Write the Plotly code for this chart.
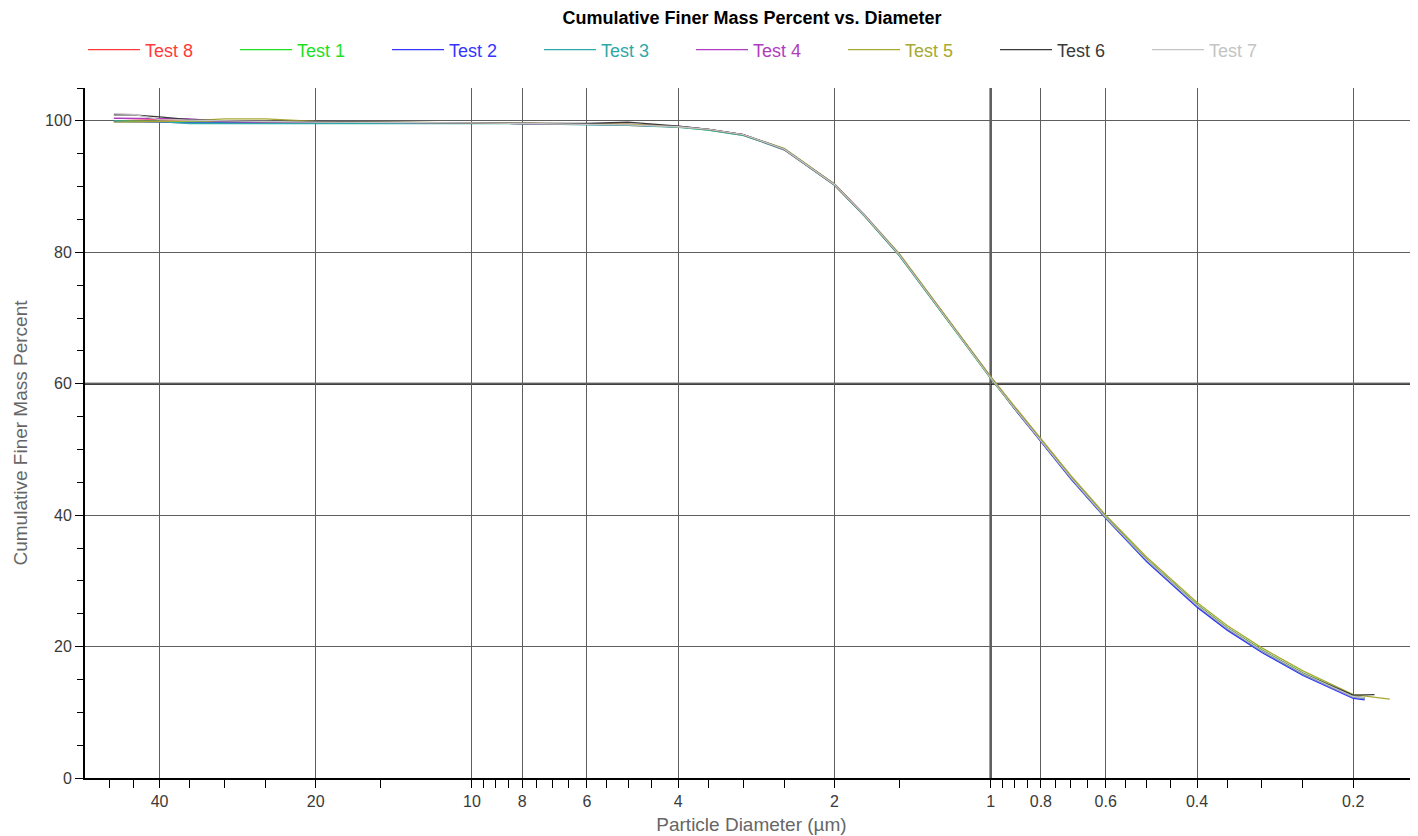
import math
import plotly.graph_objects as go

# ---------------- data ----------------
diameter_um = [49, 45, 40, 35, 30, 25, 20, 15, 10, 8, 6, 5, 4, 3.5, 3, 2.5, 2,
               1.75, 1.5, 1.25, 1, 0.9, 0.8, 0.7, 0.6, 0.5, 0.4, 0.35, 0.3, 0.25, 0.2]

test_names = ["Test 8", "Test 1", "Test 2", "Test 3", "Test 4", "Test 5", "Test 6", "Test 7"]
test_colors = ["#ff3b3b", "#1fe01f", "#3535ff", "#2fa8a8", "#b03cc0", "#a8a832", "#3a3a3a", "#c4c4c4"]

# last point of each test (diameter, percent), same order as test_names
tail_diameter = [0.19, 0.19, 0.19, 0.19, 0.19, 0.17, 0.182, 0.19]
tail_percent = [12.1, 12.2, 11.9, 12.1, 12.2, 12.0, 12.7, 12.2]

test8 = [100.0, 100.1, 100.2, 100.0, 99.9, 99.8, 99.8, 99.7, 99.7, 99.6, 99.5, 99.3, 99.1, 98.7, 97.9, 95.6,
         90.2, 85.5, 79.6, 71.3, 60.9, 56.3, 51.3, 45.6, 39.6, 33.1, 26.2, 22.7, 19.3, 15.8, 12.3]
test1 = [100.0, 100.0, 99.9, 99.8, 99.8, 99.8, 99.8, 99.8, 99.7, 99.6, 99.5, 99.4, 99.1, 98.6, 97.8, 95.7,
         90.3, 85.5, 79.5, 71.1, 60.8, 56.2, 51.4, 45.8, 39.8, 33.3, 26.4, 22.9, 19.5, 16.0, 12.5]
test2 = [99.9, 99.9, 99.8, 99.7, 99.7, 99.8, 99.8, 99.8, 99.7, 99.6, 99.5, 99.4, 99.1, 98.7, 97.9, 95.7,
         90.3, 85.6, 79.6, 71.2, 60.9, 56.2, 51.2, 45.5, 39.5, 32.9, 26.0, 22.5, 19.1, 15.6, 12.1]
test3 = [100.0, 99.9, 99.9, 99.6, 99.6, 99.6, 99.7, 99.7, 99.7, 99.6, 99.4, 99.3, 99.0, 98.6, 97.8, 95.6,
         90.2, 85.5, 79.5, 71.2, 60.9, 56.3, 51.3, 45.6, 39.6, 33.1, 26.2, 22.7, 19.3, 15.8, 12.3]
test4 = [100.4, 100.4, 100.4, 100.3, 99.9, 99.8, 99.8, 99.8, 99.7, 99.6, 99.5, 99.5, 99.2, 98.7, 97.9, 95.7,
         90.4, 85.7, 79.7, 71.3, 61.0, 56.4, 51.4, 45.7, 39.7, 33.2, 26.3, 22.8, 19.4, 15.9, 12.4]
test5 = [99.8, 99.8, 99.9, 100.0, 100.3, 100.3, 99.9, 99.8, 99.7, 99.6, 99.6, 99.5, 99.1, 98.7, 97.9, 95.8,
         90.4, 85.7, 79.8, 71.4, 61.1, 56.6, 51.7, 46.0, 40.0, 33.6, 26.7, 23.2, 19.8, 16.3, 12.7]
test6 = [100.9, 100.9, 100.6, 100.2, 100.0, 99.9, 99.9, 99.8, 99.7, 99.6, 99.6, 99.8, 99.2, 98.7, 97.9, 95.7,
         90.3, 85.6, 79.6, 71.2, 60.9, 56.3, 51.4, 45.7, 39.7, 33.2, 26.3, 22.8, 19.4, 15.9, 12.6]
test7 = [101.1, 101.0, 100.2, 100.1, 100.0, 99.9, 99.8, 99.8, 99.7, 99.6, 99.5, 99.4, 99.1, 98.7, 97.9, 95.7,
         90.3, 85.6, 79.6, 71.2, 60.9, 56.3, 51.4, 45.7, 39.7, 33.2, 26.3, 22.8, 19.4, 15.9, 12.4]

test_percent = [test8, test1, test2, test3, test4, test5, test6, test7]

major_ticks = [40, 20, 10, 8, 6, 4, 2, 1, 0.8, 0.6, 0.4, 0.2]
major_labels = ["40", "20", "10", "8", "6", "4", "2", "1", "0.8", "0.6", "0.4", "0.2"]
minor_ticks = [50, 45, 35, 30, 25, 15, 9.5, 9, 8.5, 7.5, 7, 6.5, 5.5, 5, 4.5, 3.5, 3, 2.5, 1.5,
               0.95, 0.9, 0.85, 0.75, 0.7, 0.65, 0.55, 0.5, 0.45, 0.35, 0.3, 0.25]
y_ticks = [0, 20, 40, 60, 80, 100]

# ---------------- figure ----------------
FONT = "Liberation Sans, Arial, sans-serif"
W, H = 1410, 828          # page body adds an 8px offset
fig = go.Figure()

for i in range(len(test_names)):
    fig.add_trace(go.Scatter(
        x=diameter_um + [tail_diameter[i]],
        y=test_percent[i] + [tail_percent[i]],
        mode="lines",
        name=f"<span style='color:{test_colors[i]}'>{test_names[i]}</span>",
        line=dict(color=test_colors[i], width=1.3),
    ))

# emphasised grid lines (at x=1 and y=60)
fig.add_shape(type="line", xref="x", yref="paper", x0=1, x1=1, y0=0, y1=1,
              line=dict(color="#000000", width=2), layer="between")
fig.add_shape(type="line", xref="paper", yref="y", x0=0, x1=1, y0=60, y1=60,
              line=dict(color="#000000", width=2), layer="between")

fig.update_layout(
    width=W, height=H,
    paper_bgcolor="white", plot_bgcolor="white",
    margin=dict(l=77, r=0, t=80, b=58, autoexpand=False),
    font=dict(family=FONT, size=16, color="#3a3a3a"),
    title=dict(text="<b>Cumulative Finer Mass Percent vs. Diameter</b>",
               x=744 / W, xanchor="center", y=1 - 10 / H, yanchor="middle",
               font=dict(family=FONT, size=18, color="#000000")),
    legend=dict(orientation="h", x=75 / W, xref="container", xanchor="left",
                y=1 - 42 / H, yref="container", yanchor="middle",
                entrywidth=85, entrywidthmode="pixels",
                font=dict(family=FONT, size=18), bgcolor="rgba(0,0,0,0)",
                traceorder="normal", itemwidth=52),
    showlegend=True,
)

fig.update_xaxes(
    type="log", automargin=False,
    range=[math.log10(55.7), math.log10(0.150)],
    tickmode="array", tickvals=major_ticks, ticktext=major_labels,
    ticks="outside", ticklen=8, tickwidth=1, tickcolor="#000000",
    showgrid=True, gridcolor="#5e5e5e", gridwidth=1,
    showline=True, linecolor="#000000", linewidth=2,
    zeroline=False,
    minor=dict(tickvals=minor_ticks, ticks="outside", ticklen=8, tickwidth=1,
               tickcolor="#000000", showgrid=False),
    tickfont=dict(family=FONT, size=16, color="#3a3a3a"),
    title=dict(text="Particle Diameter (µm)", standoff=8,
               font=dict(family=FONT, size=19, color="#666666")),
)
fig.update_yaxes(
    range=[0, 105], automargin=False,
    tickmode="array", tickvals=y_ticks,
    ticks="outside", ticklen=8, tickwidth=1, tickcolor="#000000",
    showgrid=True, gridcolor="#5e5e5e", gridwidth=1,
    showline=True, linecolor="#000000", linewidth=2,
    zeroline=False,
    minor=dict(dtick=5, tick0=0, ticks="outside", ticklen=6, tickwidth=1,
               tickcolor="#000000", showgrid=False),
    tickfont=dict(family=FONT, size=16, color="#3a3a3a"),
    title=dict(text="Cumulative Finer Mass Percent", standoff=12,
               font=dict(family=FONT, size=19, color="#666666")),
)

fig.write_html("out.html")
